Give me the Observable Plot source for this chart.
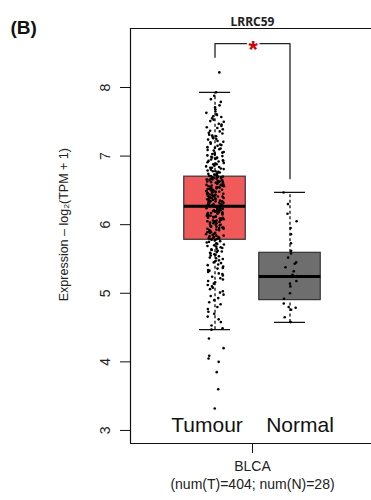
<!DOCTYPE html>
<html>
<head>
<meta charset="utf-8">
<script src="https://cdn.jsdelivr.net/npm/d3@7"></script>
<script src="https://cdn.jsdelivr.net/npm/@observablehq/plot@0.6"></script>
<style>
  html, body { margin: 0; padding: 0; background: #fff; }
</style>
</head>
<body>
<div id="chart"></div>
<script>
// ---------- data ----------
const groups = ["Tumour", "Normal"];
const positions = [1, 2];
const boxColors = ["#F15A5A", "#6E6E6E"];
const q1 = [5.78, 4.90];
const median = [6.27, 5.245];
const q3 = [6.70, 5.59];
const whiskerLow = [4.47, 4.575];
const whiskerHigh = [7.93, 6.47];

const yTicks = [3, 4, 5, 6, 7, 8];
const yDomain = [2.81, 8.86];
const xDomain = [-0.127, 3.087];

const title = "LRRC59";
const panelLabel = "(B)";
const yLabel = "Expression \u2013 log\u2082(TPM + 1)";
const xTickLabel = "BLCA";
const xTickSub = "(num(T)=404; num(N)=28)";

// significance bracket (x positions, y values)
const bracketX = [1, 1, 2, 2];
const bracketY = [8.44, 8.64, 8.64, 6.67];
const bracketMark = "*";

// Tumour expression values
const tumourHigh = [
  8.22, 7.93, 7.88, 7.83, 7.79, 7.74, 7.71, 7.68, 7.65, 7.63, 7.61, 7.60, 7.58,
  7.57, 7.55, 7.53, 7.51, 7.50, 7.47, 7.46, 7.44, 7.42, 7.41, 7.39, 7.37, 7.36, 7.34, 7.33, 7.31, 7.30,
  7.29, 7.28, 7.26, 7.25, 7.24, 7.22, 7.21, 7.20, 7.18, 7.17, 7.16, 7.15, 7.13, 7.12, 7.11, 7.10, 7.09,
  7.08, 7.06, 7.05, 7.04, 7.03, 7.02, 7.01, 7.00,
  6.99, 6.98, 6.98, 6.97, 6.96, 6.95, 6.94, 6.93, 6.93, 6.92, 6.91, 6.90, 6.89, 6.88, 6.88, 6.87,
  6.86, 6.85, 6.84, 6.83, 6.83, 6.82, 6.81, 6.80, 6.79, 6.78, 6.78, 6.77, 6.76, 6.75, 6.74, 6.74,
  6.73, 6.72, 6.71, 6.71, 6.70, 6.70
];
const tumourMidHigh = [
  6.70, 6.69, 6.69, 6.68, 6.68, 6.67, 6.67, 6.66, 6.66, 6.65,
  6.65, 6.64, 6.64, 6.63, 6.63, 6.62, 6.62, 6.61, 6.61, 6.60,
  6.60, 6.59, 6.59, 6.58, 6.58, 6.57, 6.57, 6.56, 6.56, 6.55,
  6.55, 6.54, 6.54, 6.53, 6.53, 6.52, 6.52, 6.51, 6.51, 6.50,
  6.50, 6.49, 6.49, 6.48, 6.48, 6.47, 6.47, 6.46, 6.46, 6.45,
  6.45, 6.44, 6.44, 6.43, 6.43, 6.42, 6.42, 6.41, 6.41, 6.40,
  6.40, 6.39, 6.39, 6.38, 6.38, 6.37, 6.37, 6.36, 6.36, 6.35,
  6.35, 6.34, 6.34, 6.33, 6.33, 6.32, 6.32, 6.31, 6.31, 6.30,
  6.30, 6.29, 6.29, 6.28, 6.28, 6.27, 6.27, 6.62, 6.55, 6.48, 6.41, 6.34
];
const tumourMidLow = [
  6.26, 6.26, 6.25, 6.25, 6.24, 6.24, 6.23, 6.23, 6.22, 6.22,
  6.21, 6.21, 6.20, 6.20, 6.19, 6.19, 6.18, 6.18, 6.17, 6.17,
  6.16, 6.16, 6.15, 6.15, 6.14, 6.14, 6.13, 6.13, 6.12, 6.12,
  6.11, 6.11, 6.10, 6.10, 6.09, 6.09, 6.08, 6.07, 6.07, 6.06,
  6.06, 6.05, 6.04, 6.04, 6.03, 6.02, 6.02, 6.01, 6.00, 6.00,
  5.99, 5.98, 5.98, 5.97, 5.96, 5.96, 5.95, 5.94, 5.94, 5.93,
  5.92, 5.92, 5.91, 5.90, 5.90, 5.89, 5.88, 5.88, 5.87, 5.86,
  5.86, 5.85, 5.84, 5.84, 5.83, 5.82, 5.82, 5.81, 5.80, 5.80,
  5.79, 5.79, 5.78, 5.78, 6.21, 6.13, 6.05, 5.97, 5.89
];
const tumourLow = [
  5.77, 5.76, 5.75, 5.74, 5.73, 5.72, 5.71, 5.70, 5.69, 5.68,
  5.67, 5.66, 5.65, 5.64, 5.63, 5.62, 5.61, 5.60, 5.59, 5.58,
  5.57, 5.56, 5.55, 5.54, 5.52, 5.51, 5.50, 5.48, 5.47, 5.45,
  5.44, 5.42, 5.41, 5.39, 5.37, 5.36, 5.34, 5.33, 5.31, 5.29,
  5.28, 5.26, 5.24, 5.22, 5.20, 5.18, 5.16, 5.14, 5.12, 5.10,
  5.08, 5.06, 5.03, 5.01, 4.98, 4.96, 4.93, 4.90, 4.87, 4.84,
  4.80, 4.77, 4.73, 4.70, 4.66, 4.62, 4.58, 4.53, 4.49, 4.47,
  4.34, 4.20, 4.09, 4.05, 4.00, 3.85, 3.60, 3.32
];
// Normal expression values
const normalValues = [
  6.47, 6.30, 6.16, 6.05, 5.95, 5.86, 5.73, 5.62, 5.58, 5.52,
  5.45, 5.43, 5.38, 5.32, 5.27, 5.25, 5.24, 5.18, 5.14, 5.10,
  5.00, 4.92, 4.85, 4.80, 4.79, 4.76, 4.65, 4.58
];

// ---------- build tables ----------
const boxes = groups.map((g, i) => ({
  group: g, x: positions[i], color: boxColors[i],
  q1: q1[i], median: median[i], q3: q3[i], lo: whiskerLow[i], hi: whiskerHigh[i]
}));

// deterministic jitter for point placement
function jitter(i, seed) {
  const s = Math.sin((i + 1) * 12.9898 + seed * 78.233) * 43758.5453;
  return s - Math.floor(s) - 0.5;
}
const tumourValues = [...tumourHigh, ...tumourMidHigh, ...tumourMidLow, ...tumourLow];
const points = [
  ...tumourValues.map((v, i) => ({v, x: positions[0] + jitter(i, 1) * 0.24})),
  ...normalValues.map((v, i) => ({v, x: positions[1] + jitter(i, 2) * 0.2}))
];
const bracket = bracketX.map((x, i) => ({x, y: bracketY[i]}));

const font = "'Liberation Sans', Arial, sans-serif";
const boxHalf = 0.41, capHalf = 0.207;

const chart = Plot.plot({
  width: 371,
  height: 500,
  marginLeft: 130,
  marginRight: 0,
  marginTop: 28,
  marginBottom: 57,
  style: {fontFamily: font, background: "#fff", color: "#111"},
  x: {domain: xDomain},
  y: {domain: yDomain},
  marks: [
    // frame: left, top, bottom
    Plot.ruleX([xDomain[0]], {stroke: "#111", strokeWidth: 1.2}),
    Plot.ruleY(yDomain, {stroke: "#111", strokeWidth: 1.2}),
    // axes
    Plot.axisY(yTicks, {tickSize: 10, tickFormat: () => "", label: null, stroke: "#111"}),
    Plot.text(yTicks, {y: d => d, frameAnchor: "left", textAnchor: "middle", dx: -25, rotate: -90, text: d => String(d), fontSize: 14, fill: "#222"}),
    Plot.text([yLabel], {frameAnchor: "left", textAnchor: "middle", y: [6], dx: -67, rotate: -90, fontSize: 12.5, fill: "#222"}),
    Plot.axisX([1.5], {tickSize: 10, tickFormat: () => "", label: null, stroke: "#111"}),
    Plot.text([xTickLabel], {x: [1.5], frameAnchor: "bottom", dy: 27, fontSize: 14, fill: "#222"}),
    Plot.text([xTickSub], {x: [1.5], frameAnchor: "bottom", dy: 45, fontSize: 14, fill: "#222"}),
    // titles
    Plot.text([title], {x: [1.5], frameAnchor: "top", dy: -11, fontSize: 12, fontWeight: "bold", fontFamily: "'Noto Sans', sans-serif", fill: "#222"}),
    Plot.text([panelLabel], {frameAnchor: "top-left", dx: -120, dy: -8, textAnchor: "start", fontSize: 19, fontWeight: "bold", fontFamily: "'Liberation Sans', Arial, sans-serif", fill: "#111"}),
    // whiskers
    Plot.ruleX(boxes, {x: "x", y1: "q3", y2: "hi", stroke: "#111", strokeWidth: 1.3, strokeDasharray: "3,2.5"}),
    Plot.ruleX(boxes, {x: "x", y1: "lo", y2: "q1", stroke: "#111", strokeWidth: 1.3, strokeDasharray: "3,2.5"}),
    Plot.ruleY(boxes, {y: "hi", x1: d => d.x - capHalf, x2: d => d.x + capHalf, stroke: "#111", strokeWidth: 1.3}),
    Plot.ruleY(boxes, {y: "lo", x1: d => d.x - capHalf, x2: d => d.x + capHalf, stroke: "#111", strokeWidth: 1.3}),
    // boxes
    Plot.rectY(boxes, {x1: d => d.x - boxHalf, x2: d => d.x + boxHalf, y1: "q1", y2: "q3", fill: "color", stroke: "#333", strokeWidth: 1.2}),
    Plot.ruleY(boxes, {y: "median", x1: d => d.x - boxHalf, x2: d => d.x + boxHalf, stroke: "#000", strokeWidth: 3}),
    // points
    Plot.dot(points, {x: "x", y: "v", r: 1.3, fill: "#000", stroke: null}),
    // significance bracket
    Plot.line(bracket, {x: "x", y: "y", stroke: "#222", strokeWidth: 1.3}),
    Plot.text([bracketMark], {x: [1.51], y: [bracketY[1]], dy: 7, fontSize: 24, fontWeight: "bold", fill: "#D00000", stroke: "#fff", strokeWidth: 4}),
    // group labels
    Plot.text([groups[0]], {x: [positions[0]], frameAnchor: "bottom", dy: -12, dx: -8, fontSize: 21, fill: "#111"}),
    Plot.text([groups[1]], {x: [positions[1]], frameAnchor: "bottom", dy: -12, dx: 10, fontSize: 21, fill: "#111"})
  ]
});
document.getElementById("chart").appendChild(chart);
</script>
</body>
</html>
